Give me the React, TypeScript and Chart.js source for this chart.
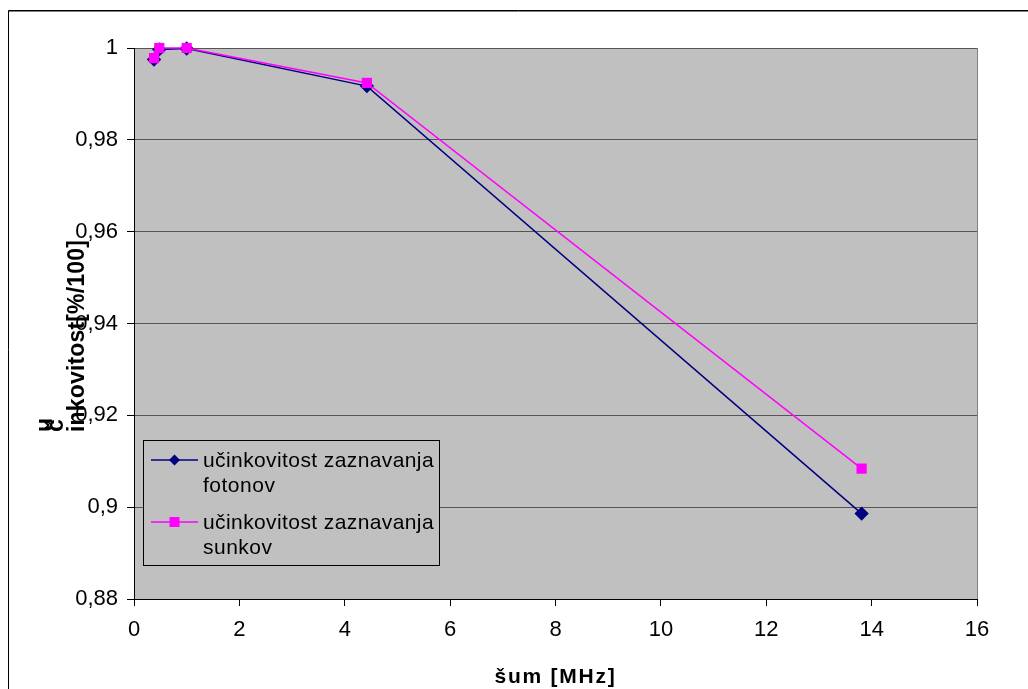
import React, { useEffect, useRef } from 'react';
import { Chart, registerables } from 'chart.js';

Chart.register(...registerables);

// ---- data ----
const noiseMHz = [0.38, 0.48, 1.0, 4.42, 13.81];
const fotonovEff = [0.9975, 0.9997, 0.9999, 0.9917, 0.8986];
const sunkovEff = [0.9978, 1.0, 1.0, 0.9924, 0.9084];
const seriesLabels = ['učinkovitost zaznavanja fotonov', 'učinkovitost zaznavanja sunkov'];
const legendLines = [
  ['učinkovitost zaznavanja', 'fotonov'],
  ['učinkovitost zaznavanja', 'sunkov'],
];
const xTitle = 'šum [MHz]';
const yTitleParts = ['u', 'č', 'inkovitost[%/100]'];
const xRange = [0, 16, 2];
const yRange = [0.88, 1.0, 0.02];

const FONT = '"Liberation Sans", Arial, sans-serif';
const NAVY = '#000080';
const MAGENTA = '#FF00FF';
const PLOT_BG = '#C0C0C0';

function fitText(ctx: CanvasRenderingContext2D, text: string, x: number, y: number, target: number) {
  (ctx as any).letterSpacing = '0px';
  const w = ctx.measureText(text).width;
  const ls = (target - w) / text.length;
  (ctx as any).letterSpacing = ls + 'px';
  ctx.textAlign = 'left';
  ctx.fillText(text, x, y);
  (ctx as any).letterSpacing = '0px';
}

function drawMarker(ctx: CanvasRenderingContext2D, kind: string, x: number, y: number, color: string) {
  ctx.fillStyle = color;
  ctx.beginPath();
  if (kind === 'diamond') {
    const r = 5.5;
    ctx.moveTo(x, y - r);
    ctx.lineTo(x + r, y);
    ctx.lineTo(x, y + r);
    ctx.lineTo(x - r, y);
    ctx.closePath();
  } else {
    const h = 5;
    ctx.rect(x - h, y - h, 2 * h, 2 * h);
  }
  ctx.fill();
}

const decorPlugin = {
  id: 'decor',
  beforeDraw(chart: any) {
    const { ctx, chartArea: a } = chart;
    ctx.save();
    ctx.fillStyle = '#ffffff';
    ctx.fillRect(0, 0, chart.width, chart.height);
    ctx.fillStyle = PLOT_BG;
    ctx.fillRect(a.left, a.top, a.right - a.left, a.bottom - a.top);
    // outer frame
    ctx.strokeStyle = '#000';
    ctx.lineWidth = 1;
    ctx.beginPath();
    ctx.moveTo(8.5, chart.height);
    ctx.lineTo(8.5, 10.5);
    ctx.lineTo(chart.width, 10.5);
    ctx.stroke();
    ctx.strokeStyle = 'rgba(0,0,0,0.5)';
    ctx.beginPath();
    ctx.moveTo(9, 11.5);
    ctx.lineTo(chart.width, 11.5);
    ctx.stroke();
    ctx.restore();
  },
  afterDraw(chart: any) {
    const { ctx, chartArea: a } = chart;
    ctx.save();
    // right border of plot
    ctx.strokeStyle = '#808080';
    ctx.lineWidth = 1;
    ctx.beginPath();
    ctx.moveTo(a.right + 0.5, a.top);
    ctx.lineTo(a.right + 0.5, a.bottom);
    ctx.stroke();

    // x title
    ctx.fillStyle = '#000';
    ctx.font = 'bold 21px ' + FONT;
    ctx.textBaseline = 'alphabetic';
    const xw = 122;
    fitText(ctx, xTitle, (a.left + a.right) / 2 - xw / 2, 683, xw);

    // y title (rotated, broken into pieces like the original)
    const cols = [52, 63, 84];
    const widths = [13, 11, 192];
    yTitleParts.forEach((p, i) => {
      ctx.save();
      ctx.translate(cols[i], 432);
      ctx.rotate(-Math.PI / 2);
      ctx.font = 'bold 23px ' + FONT;
      fitText(ctx, p, 0, 0, widths[i]);
      ctx.restore();
    });

    // legend
    const lx = 143.5, ly = 440.5, lw = 296, lh = 125;
    ctx.fillStyle = PLOT_BG;
    ctx.fillRect(lx, ly, lw, lh);
    ctx.strokeStyle = '#000';
    ctx.lineWidth = 1;
    ctx.strokeRect(lx, ly, lw, lh);
    const colors = [NAVY, MAGENTA];
    const kinds = ['diamond', 'square'];
    const rows = [460, 522];
    legendLines.forEach((lines, i) => {
      const cy = rows[i];
      ctx.strokeStyle = colors[i];
      ctx.lineWidth = 1.5;
      ctx.beginPath();
      ctx.moveTo(151, cy);
      ctx.lineTo(198, cy);
      ctx.stroke();
      drawMarker(ctx, kinds[i], 174.5, cy, colors[i]);
      ctx.fillStyle = '#000';
      ctx.font = '21px ' + FONT;
      ctx.textBaseline = 'middle';
      fitText(ctx, lines[0], 203, cy + 1, 231);
      (ctx as any).letterSpacing = '0.5px';
      ctx.fillText(lines[1], 203, cy + 26);
      (ctx as any).letterSpacing = '0px';
    });
    ctx.restore();
  },
};

export default function App() {
  const ref = useRef<HTMLCanvasElement | null>(null);
  useEffect(() => {
    if (!ref.current) return;
    const chart = new Chart(ref.current, {
      type: 'line',
      data: {
        datasets: [
          {
            label: seriesLabels[0],
            data: noiseMHz.map((x, i) => ({ x, y: fotonovEff[i] })),
            borderColor: NAVY,
            backgroundColor: NAVY,
            borderWidth: 1.5,
            pointStyle: 'rectRot',
            pointRadius: 7.2,
            pointBorderWidth: 0,
            pointHoverRadius: 7.2,
            clip: false,
            order: 2,
          },
          {
            label: seriesLabels[1],
            data: noiseMHz.map((x, i) => ({ x, y: sunkovEff[i] })),
            borderColor: MAGENTA,
            backgroundColor: MAGENTA,
            borderWidth: 1.5,
            pointStyle: 'rect',
            pointRadius: 7.2,
            pointBorderWidth: 0,
            pointHoverRadius: 7.2,
            clip: false,
            order: 1,
          },
        ],
      },
      options: {
        animation: false,
        responsive: false,
        devicePixelRatio: 1,
        parsing: false as any,
        layout: { padding: { top: 48, right: 51, left: 0, bottom: 0 } },
        plugins: { legend: { display: false }, tooltip: { enabled: false }, title: { display: false } },
        scales: {
          x: {
            type: 'linear',
            min: xRange[0],
            max: xRange[1],
            ticks: {
              stepSize: xRange[2],
              color: '#000',
              font: { family: FONT, size: 22 },
              padding: 11,
              maxRotation: 0,
            },
            grid: { drawOnChartArea: false, tickLength: 7, tickColor: '#000' },
            border: { color: '#000', width: 1 },
            afterFit: (s: any) => { s.height = 90; },
          },
          y: {
            type: 'linear',
            min: yRange[0],
            max: yRange[1],
            ticks: {
              stepSize: yRange[2],
              color: '#000',
              font: { family: FONT, size: 22 },
              padding: 9,
              callback: (v: any) => String(Math.round(Number(v) * 100) / 100).replace('.', ','),
            },
            grid: {
              tickLength: 7,
              tickColor: '#000',
              color: (c: any) => (c.tick && c.tick.value <= yRange[0] + 1e-6 ? 'rgba(0,0,0,0)' : '#555555'),
            },
            border: { color: '#000', width: 1 },
            afterFit: (s: any) => { s.width = 134; },
          },
        },
      },
      plugins: [decorPlugin],
    } as any);
    return () => chart.destroy();
  }, []);
  return (
    <div style={{ position: 'fixed', left: 0, top: 0, width: 1028, height: 689, background: '#fff' }}>
      <canvas ref={ref} width={1028} height={689} style={{ display: 'block', width: 1028, height: 689 }} />
    </div>
  );
}
